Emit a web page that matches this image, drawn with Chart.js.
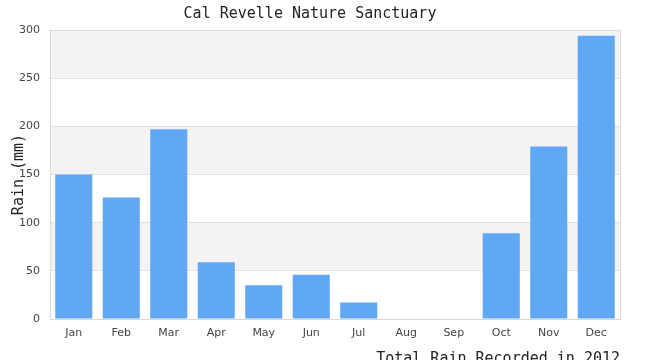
<!DOCTYPE html>
<html>
<head>
<meta charset="utf-8">
<script src="https://cdn.jsdelivr.net/npm/chart.js@4/dist/chart.umd.min.js"></script>
<style>
  html, body { margin: 0; padding: 0; background: #fff; overflow: hidden; width: 650px; height: 360px; }
  #wrap { width: 650px; height: 369px; }
</style>
</head>
<body>
<div id="wrap"><canvas id="c" width="650" height="369"></canvas></div>
<script>
// 월별 강수량 (mm), 2012
const months = ['Jan', 'Feb', 'Mar', 'Apr', 'May', 'Jun', 'Jul', 'Aug', 'Sep', 'Oct', 'Nov', 'Dec'];
const rainMm = [150, 126, 197, 59, 35, 46, 17, 0, 0, 89, 179, 294];
const yTicks = [0, 50, 100, 150, 200, 250, 300];

// 격자 사이 교대 배경 + 플롯 테두리
const bandPlugin = {
    id: 'bands',
    beforeDraw(chart) {
        const { ctx, chartArea: a, scales: { y } } = chart;
        ctx.save();
        for (let i = 0; i < yTicks.length - 1; i++) {
            const top = y.getPixelForValue(yTicks[i + 1]);
            const bot = y.getPixelForValue(yTicks[i]);
            if ((yTicks.length - 2 - i) % 2 === 0) {
                ctx.fillStyle = '#f3f3f3';
                ctx.fillRect(a.left, top, a.right - a.left, bot - top);
            }
        }
        ctx.restore();
    },
    afterDraw(chart) {
        const { ctx, chartArea: a } = chart;
        ctx.save();
        ctx.strokeStyle = '#d9d9d9';
        ctx.lineWidth = 1;
        ctx.strokeRect(Math.round(a.left) + 0.5, Math.round(a.top) + 0.5,
            Math.round(a.right - a.left), Math.round(a.bottom - a.top));
        ctx.restore();
    }
};

new Chart(document.getElementById('c'), {
    type: 'bar',
    data: {
        labels: months,
        datasets: [{
            data: rainMm,
            backgroundColor: '#60a8f4',
            borderWidth: 0,
            categoryPercentage: 0.78,
            barPercentage: 1.0
        }]
    },
    options: {
        responsive: false,
        animation: false,
        layout: { padding: { left: 0, right: 30, top: 5, bottom: 1 } },
        plugins: {
            legend: { display: false },
            tooltip: { enabled: false },
            title: {
                display: true,
                text: 'Cal Revelle Nature Sanctuary',
                color: '#222',
                font: { family: 'DejaVu Sans Mono', size: 15, weight: 'normal', lineHeight: 1.2 },
                padding: { top: 0, bottom: 7 }
            }
        },
        scales: {
            x: {
                afterFit(axis) { axis.height = 49; },
                grid: { display: false, drawTicks: false },
                border: { display: false },
                ticks: {
                    color: '#444',
                    font: { family: 'DejaVu Sans', size: 11 },
                    padding: 8
                },
                title: {
                    display: true,
                    text: 'Total Rain Recorded in 2012',
                    align: 'end',
                    color: '#222',
                    font: { family: 'DejaVu Sans Mono', size: 15 },
                    padding: { top: 7, bottom: 0 }
                }
            },
            y: {
                min: 0,
                max: 300,
                afterBuildTicks(axis) { axis.ticks = yTicks.map(v => ({ value: v })); },
                afterFit(axis) { axis.width = 50; },
                grid: { color: '#e2e2e2', drawTicks: false },
                border: { display: false },
                ticks: {
                    color: '#444',
                    font: { family: 'DejaVu Sans', size: 11 },
                    padding: 10
                },
                title: {
                    display: true,
                    text: 'Rain (mm)',
                    color: '#222',
                    font: { family: 'DejaVu Sans Mono', size: 15 },
                    padding: { top: 10, bottom: 0 }
                }
            }
        }
    },
    plugins: [bandPlugin]
});
</script>
</body>
</html>
